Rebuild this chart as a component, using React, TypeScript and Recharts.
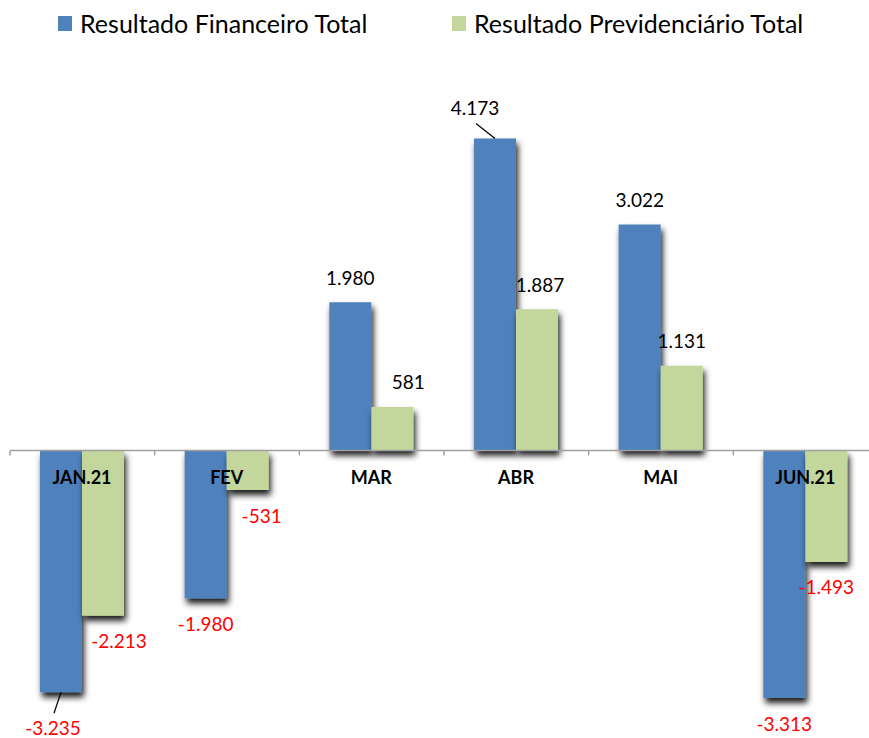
import React from "react";
import {
  BarChart,
  Bar,
  XAxis,
  YAxis,
  ReferenceLine,
  LabelList,
  Legend,
  Rectangle,
} from "recharts";

// months and values
const MONTHS = ["JAN.21", "FEV", "MAR", "ABR", "MAI", "JUN.21"];
const FINANCEIRO = [-3235, -1980, 1980, 4173, 3022, -3313];
const PREVIDENCIARIO = [-2213, -531, 581, 1887, 1131, -1493];
const SERIES_NAMES = ["Resultado Financeiro Total", "Resultado Previdenciário Total"];

// label nudges [dx, extra distance] — Excel moved a few of them by hand
const FIN_NUDGE = [[-8, 10], [0, 0], [0, 0], [-20, 6], [0, 0], [0, 0]];
const PREV_NUDGE = [[16, 0], [14, 0], [16, 0], [3, 0], [0, 0], [0, 0]];

const Y_MIN = -3500;
const Y_MAX = 4500;

const BLUE = "#4f81bd";
const GREEN = "#c3d69b";
const FONT = "Lato, 'Liberation Sans', sans-serif";

const data = MONTHS.map((month, i) => ({
  month,
  fin: FINANCEIRO[i],
  prev: PREVIDENCIARIO[i],
}));

const fmt = (v: number) => {
  const s = Math.abs(v)
    .toString()
    .replace(/\B(?=(\d{3})+(?!\d))/g, ".");
  return v < 0 ? "-" + s : s;
};

const barBox = (props: any) => {
  const vb = props.viewBox || props;
  const x = vb.x ?? props.x;
  const y = vb.y ?? props.y;
  const w = vb.width ?? props.width;
  const h = vb.height ?? props.height;
  return { x, w, top: Math.min(y, y + h), bottom: Math.max(y, y + h) };
};

const makeValueLabel = (values: number[], nudges: number[][]) => (props: any) => {
  const { index } = props;
  const v = values[index];
  const { x, w, top, bottom } = barBox(props);
  const cx = x + w / 2;
  const [dx, extra] = nudges[index];
  const pos = v >= 0;
  const lx = cx + dx;
  const ly = pos ? top - 25 - extra : bottom + 25 + extra;
  return (
    <g>
      {extra > 0 && (
        <line
          x1={cx}
          y1={pos ? top : bottom}
          x2={lx + 1}
          y2={pos ? ly + 16 : ly - 14}
          stroke="#000"
          strokeWidth={1.2}
        />
      )}
      <text
        x={lx}
        y={ly}
        textAnchor="middle"
        dominantBaseline="central"
        fontFamily={FONT}
        fontSize={19}
        fill={pos ? "#000" : "#ff0000"}
      >
        {fmt(v)}
      </text>
    </g>
  );
};

const CategoryLabel = (props: any) => {
  const { index } = props;
  const { x, top, bottom } = barBox(props);
  const zero = PREVIDENCIARIO[index] >= 0 ? bottom : top;
  return (
    <text
      x={x}
      y={zero + 27}
      textAnchor="middle"
      dominantBaseline="central"
      fontFamily={FONT}
      fontWeight="bold"
      fontSize={18}
      fill="#000"
    >
      {MONTHS[index]}
    </text>
  );
};

const TickMark = (props: any) => {
  const { x1, y1, y2 } = props;
  const top = Math.min(y1, y2);
  const bottom = Math.max(y1, y2);
  const zero = top + ((bottom - top) * Y_MAX) / (Y_MAX - Y_MIN);
  return <line x1={x1} x2={x1} y1={zero} y2={zero + 5} stroke="#a0a0a0" strokeWidth={1.5} />;
};

const ShadowBar = (props: any) => <Rectangle {...props} filter="url(#barShadow)" />;

const LegendContent = (props: any) => {
  const items = props.payload || [];
  return (
    <div style={{ display: "flex", paddingLeft: 58, fontFamily: FONT, fontSize: 25, color: "#000" }}>
      {items.map((item: any, i: number) => (
        <div
          key={item.value}
          style={{ display: "flex", alignItems: "center", width: i === 0 ? 394 : "auto" }}
        >
          <span style={{ width: 14, height: 15, background: item.color, marginRight: 8 }} />
          <span>{item.value}</span>
        </div>
      ))}
    </div>
  );
};

export default function App() {
  return (
    <div style={{ position: "absolute", left: 0, top: 0, width: 869, height: 738, overflow: "hidden", background: "#fff" }}>
      <BarChart
        width={880}
        height={738}
        data={data}
        margin={{ top: 114, right: 2, bottom: 26, left: 10 }}
        barGap={0}
        barSize={42}
      >
        <defs>
          <filter id="barShadow" filterUnits="userSpaceOnUse" x={0} y={0} width={900} height={760}>
            <feDropShadow dx={2} dy={5} stdDeviation={3} floodColor="#000" floodOpacity={0.9} />
          </filter>
        </defs>
        <XAxis dataKey="month" hide />
        <YAxis hide domain={[Y_MIN, Y_MAX]} allowDataOverflow />
        <Legend
          layout="horizontal"
          verticalAlign="middle"
          align="center"
          wrapperStyle={{ top: 8, left: 0, width: 869 }}
          content={LegendContent}
        />
        <Bar
          dataKey="fin"
          name={SERIES_NAMES[0]}
          fill={BLUE}
          shape={ShadowBar}
          isAnimationActive={false}
        >
          <LabelList dataKey="fin" content={makeValueLabel(FINANCEIRO, FIN_NUDGE)} />
        </Bar>
        <Bar
          dataKey="prev"
          name={SERIES_NAMES[1]}
          fill={GREEN}
          shape={ShadowBar}
          isAnimationActive={false}
        >
          <LabelList dataKey="prev" content={makeValueLabel(PREVIDENCIARIO, PREV_NUDGE)} />
          <LabelList dataKey="month" content={CategoryLabel} />
        </Bar>
        <ReferenceLine y={0} stroke="#a0a0a0" strokeWidth={1.5} />
        {MONTHS.map((m) => (
          <ReferenceLine key={m} x={m} position="start" shape={TickMark} />
        ))}
      </BarChart>
    </div>
  );
}
